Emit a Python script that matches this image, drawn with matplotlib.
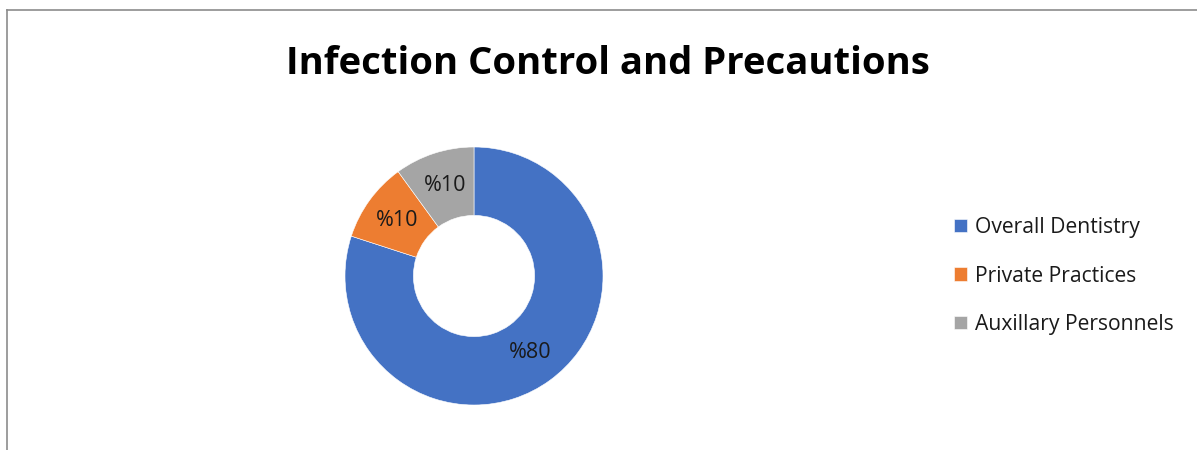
import matplotlib
matplotlib.use("Agg")
import matplotlib.pyplot as plt
import numpy as np
from matplotlib.lines import Line2D

categories = ["Overall Dentistry", "Private Practices", "Auxillary Personnels"]
shares = [80, 10, 10]
labels = ["%80", "%10", "%10"]
colors = ["#4472C4", "#ED7D31", "#A5A5A5"]

W, H = 1197, 450
fig = plt.figure(figsize=(W / 100, H / 100), dpi=100)

# donut: centre (474, 276) px, outer radius 129 px
cx, cy, r = 474, 276, 129
ax = fig.add_axes([(cx - r) / W, (H - cy - r) / H, 2 * r / W, 2 * r / H])
ring = 0.53
wedges, _ = ax.pie(
    shares,
    colors=colors,
    startangle=90,
    counterclock=False,
    radius=1.0,
    wedgeprops={"width": ring, "edgecolor": "white", "linewidth": 0.4},
)
ax.set_xlim(-1, 1)
ax.set_ylim(-1, 1)

mid_r = 1.0 - ring / 2
for w, lab in zip(wedges, labels):
    ang = np.deg2rad((w.theta1 + w.theta2) / 2)
    ax.text(mid_r * np.cos(ang), mid_r * np.sin(ang), lab,
            ha="center", va="center", fontsize=15.5, family="Open Sans", color="#1a1a1a")

fig.text(608 / W, 1 - 64 / H, "Infection Control and Precautions",
         ha="center", va="center", fontsize=27.5, fontweight="bold", family="Open Sans")

fig.legend(wedges, categories, loc="center left", bbox_to_anchor=(935 / W, 1 - 276 / H),
           frameon=False, prop={"family": "Open Sans", "size": 15.2},
           handlelength=0.6, handleheight=0.6, handletextpad=0.4, labelspacing=1.3,
           labelcolor="#1a1a1a")

# chart border (top and left edges visible)
fig.add_artist(Line2D([7 / W, 1], [1 - 10 / H, 1 - 10 / H], color="#8c8c8c", lw=1.2))
fig.add_artist(Line2D([7 / W, 7 / W], [0, 1 - 10 / H], color="#8c8c8c", lw=1.2))

fig.savefig("out.png", dpi=100)
